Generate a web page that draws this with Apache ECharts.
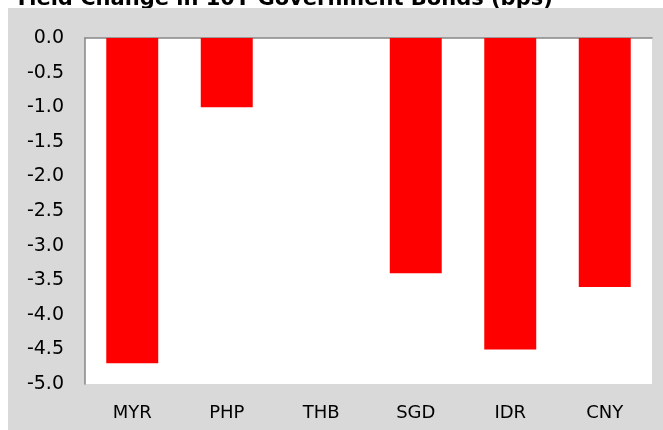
<!DOCTYPE html>
<html>
<head>
<meta charset="utf-8">
<script src="https://cdn.jsdelivr.net/npm/echarts@6/dist/echarts.min.js"></script>
<style>
  html, body { margin: 0; padding: 0; background: #fff; }
  #chart { width: 663px; height: 430px; }
</style>
</head>
<body>
<div id="chart"></div>
<script>
// data
const currencies = ['MYR', 'PHP', 'THB', 'SGD', 'IDR', 'CNY']
const yieldChange = [-4.7, -1.0, 0, -3.4, -4.5, -3.6]
const titleText = 'Yield Change in 10Y Government Bonds (bps)'

const font = 'DejaVu Sans'
const axisGrey = '#868686'

const chart = echarts.init(document.getElementById('chart'))
chart.setOption({
  animation: false,
  backgroundColor: '#fff',
  graphic: [
    {
      type: 'text',
      z: -20,
      x: 14,
      y: 10,
      style: {
        text: titleText,
        fontFamily: font,
        fontWeight: 'bold',
        fontSize: 21,
        fill: '#000',
        verticalAlign: 'bottom'
      }
    },
    {
      // grey chart area, it covers the bottom of the title
      type: 'rect',
      z: -10,
      shape: { x: 8, y: 8, width: 700, height: 500 },
      style: { fill: '#d9d9d9' }
    }
  ],
  grid: {
    left: 85,
    top: 38,
    right: 11,
    bottom: 46,
    show: true,
    backgroundColor: '#fff',
    borderWidth: 0,
    containLabel: false
  },
  xAxis: [
    {
      type: 'category',
      position: 'top',
      data: currencies,
      axisLine: { onZero: false, lineStyle: { color: axisGrey, width: 1.5 } },
      axisTick: { inside: true, length: 5, lineStyle: { color: axisGrey, width: 1.5 } },
      axisLabel: { show: false }
    },
    {
      type: 'category',
      position: 'bottom',
      data: currencies,
      axisLine: { show: false },
      axisTick: { show: false },
      axisLabel: { fontFamily: font, fontSize: 18, color: '#000', margin: 20 }
    }
  ],
  yAxis: {
    type: 'value',
    min: -5,
    max: 0,
    interval: 0.5,
    axisLine: { show: true, lineStyle: { color: axisGrey, width: 1.5 } },
    axisTick: { show: false },
    splitLine: { show: false },
    axisLabel: {
      fontFamily: font,
      fontSize: 19,
      color: '#000',
      margin: 21,
      formatter: v => v.toFixed(1)
    }
  },
  series: [{
    type: 'bar',
    xAxisIndex: 1,
    data: yieldChange,
    barWidth: '55%',
    itemStyle: { color: '#ff0000' }
  }]
})
</script>
</body>
</html>
